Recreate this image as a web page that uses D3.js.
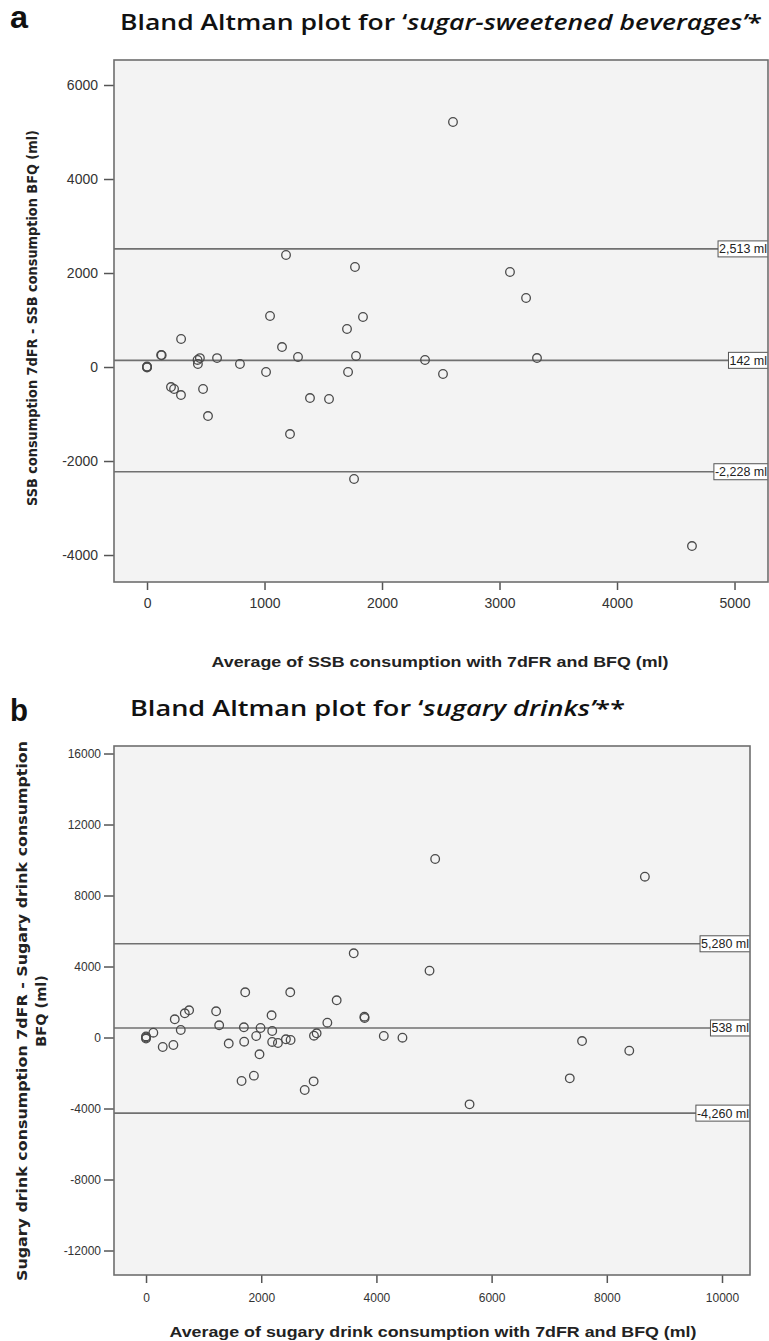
<!DOCTYPE html>
<html>
<head>
<meta charset="utf-8">
<script src="https://cdn.jsdelivr.net/npm/d3@7"></script>
<style>
  body { margin: 0; background: #fff; }
</style>
</head>
<body>
<svg id="chart"></svg>
<script>
// panel a: sugar-sweetened beverages
const ssbMean = [0, 0, 0, 120, 125, 290, 204, 230, 289, 430, 450, 433, 477, 519, 596, 791, 1013, 1047, 1149, 1183, 1217, 1285, 1387, 1549, 1702, 1711, 1762, 1770, 1779, 1838, 2366, 2519, 2604, 3089, 3226, 3319, 4638];
const ssbDiff = [0, 10, -10, 255, 250, 596, -426, -468, -596, 150, 190, 64, -468, -1043, 190, 64, -106, 1085, 425, 2383, -1426, 213, -660, -681, 809, -106, -2383, 2128, 234, 1064, 149, -149, 5213, 2021, 1468, 191, -3809];
const ssbLimits = [2513, 142, -2228];
const ssbLimitLabels = ["2,513 ml", "142 ml", "-2,228 ml"];
const ssbXTicks = [0, 1000, 2000, 3000, 4000, 5000];
const ssbYTicks = [-4000, -2000, 0, 2000, 4000, 6000];

// panel b: sugary drinks
const sdMean = [0, 0, 0, 127, 290, 475, 499, 603, 673, 748, 1217, 1270, 1436, 1659, 1699, 1704, 1722, 1873, 1913, 1970, 1988, 2180, 2191, 2190, 2290, 2429, 2504, 2510, 2755, 2910, 2916, 2962, 3148, 3310, 3606, 3791, 3795, 4128, 4452, 4922, 5020, 5617, 7357, 7570, 8390, 8661];
const sdDiff = [0, 60, -60, 270, -535, -423, 1025, 423, 1363, 1532, 1476, 687, -340, -2451, 575, -237, 2546, -2150, 85, -946, 535, 1251, 366, -250, -310, -101, 2546, -141, -2958, -2470, 101, 237, 834, 2096, 4743, 1172, 1100, 85, -11, 3763, 10056, -3765, -2300, -200, -744, 9059];
const sdLimits = [5280, 538, -4260];
const sdLimitLabels = ["5,280 ml", "538 ml", "-4,260 ml"];
const sdXTicks = [0, 2000, 4000, 6000, 8000, 10000];
const sdYTicks = [-12000, -8000, -4000, 0, 4000, 8000, 12000, 16000];

const width = 769, height = 1341;

const svg = d3.select("#chart")
    .attr("width", width)
    .attr("height", height)
    .attr("viewBox", [0, 0, width, height]);

function panel(id, o) {
  const x = d3.scaleLinear(o.xDomain, [o.left, o.right]);
  const y = d3.scaleLinear(o.yDomain, [o.bottom, o.top]);
  const g = svg.append("g");
  const plain = d => String(d); // SPSS style: hyphen minus, no grouping

  g.append("rect")
      .attr("x", o.left).attr("y", o.top)
      .attr("width", o.right - o.left).attr("height", o.bottom - o.top)
      .attr("fill", "#f3f3f3");

  // axes (domain hidden, frame drawn separately)
  g.append("g")
      .attr("transform", `translate(0,${o.bottom})`)
      .call(d3.axisBottom(x).tickValues(o.xTicks).tickSize(8).tickPadding(o.xPad).tickFormat(plain))
      .call(a => a.select(".domain").remove())
      .call(a => a.selectAll("line").attr("stroke", "#555").attr("stroke-width", 1.5))
      .call(a => a.selectAll("text").attr("fill", "#333")
          .attr("font-family", "Liberation Sans, Arial, sans-serif").attr("font-size", o.tickSize));

  g.append("g")
      .attr("transform", `translate(${o.left},0)`)
      .call(d3.axisLeft(y).tickValues(o.yTicks).tickSize(10).tickPadding(o.yPad).tickFormat(plain))
      .call(a => a.select(".domain").remove())
      .call(a => a.selectAll("line").attr("stroke", "#555").attr("stroke-width", 1.5))
      .call(a => a.selectAll("text").attr("fill", "#333")
          .attr("font-family", "Liberation Sans, Arial, sans-serif").attr("font-size", o.tickSize));

  g.append("clipPath").attr("id", id)
    .append("rect")
      .attr("x", o.left).attr("y", o.top)
      .attr("width", o.right - o.left).attr("height", o.bottom - o.top);

  const inner = g.append("g").attr("clip-path", `url(#${id})`);

  inner.selectAll("line.limit")
    .data(o.limits)
    .join("line")
      .attr("class", "limit")
      .attr("x1", o.left).attr("x2", o.right)
      .attr("y1", d => y(d)).attr("y2", d => y(d))
      .attr("stroke", "#707070")
      .attr("stroke-width", 1.6);

  inner.selectAll("circle")
    .data(d3.range(o.mean.length))
    .join("circle")
      .attr("cx", i => x(o.mean[i]))
      .attr("cy", i => y(o.diff[i]))
      .attr("r", 4.3)
      .attr("fill", "none")
      .attr("stroke", "#4a4a4a")
      .attr("stroke-width", 1.3);

  // labels of the limit lines, boxed, cut by the frame
  o.limits.forEach((v, k) => {
    const lg = inner.append("g");
    const box = lg.append("rect");
    const t = lg.append("text")
        .attr("x", o.right - 1)
        .attr("y", y(v) + 4.4)
        .attr("text-anchor", "end")
        .attr("font-family", "Liberation Sans, Arial, sans-serif")
        .attr("font-size", 12.5)
        .attr("fill", "#222")
        .text(o.limitLabels[k]);
    const b = t.node().getBBox();
    box.attr("x", b.x - 1).attr("y", y(v) - 8)
        .attr("width", b.width + 4).attr("height", 16)
        .attr("fill", "#fff").attr("stroke", "#555").attr("stroke-width", 1);
  });

  g.append("rect")
      .attr("x", o.left).attr("y", o.top)
      .attr("width", o.right - o.left).attr("height", o.bottom - o.top)
      .attr("fill", "none")
      .attr("stroke", "#6e6e6e")
      .attr("stroke-width", 1.6);

  // axis titles
  g.append("text")
      .attr("x", o.xTitleX).attr("y", o.xTitleY)
      .attr("text-anchor", "middle")
      .attr("font-family", "Liberation Sans, Arial, sans-serif")
      .attr("font-weight", "bold")
      .attr("font-size", 15.5)
      .attr("fill", "#222")
      .attr("textLength", o.xTitleLen)
      .attr("lengthAdjust", "spacingAndGlyphs")
      .text(o.xTitle);

  o.yTitle.forEach(line => {
    const t = g.append("text")
        .attr("transform", `translate(${line.x},${o.yTitleY}) rotate(-90)`)
        .attr("text-anchor", "middle")
        .attr("font-family", "DejaVu Sans, Verdana, sans-serif")
        .attr("font-weight", "bold")
        .attr("font-size", line.size)
        .attr("fill", "#222")
        .text(line.text);
    if (line.len) t.attr("textLength", line.len).attr("lengthAdjust", "spacingAndGlyphs");
  });

  // panel letter and heading
  svg.append("text")
      .attr("x", 10).attr("y", o.letterY)
      .attr("font-family", "Liberation Sans, Arial, sans-serif")
      .attr("font-weight", "bold")
      .attr("font-size", 31)
      .attr("fill", "#111")
      .attr("textLength", 18)
      .attr("lengthAdjust", "spacingAndGlyphs")
      .text(o.letter);

  const h = svg.append("text")
      .attr("x", o.headX).attr("y", o.headY)
      .attr("font-family", "Open Sans, Noto Sans, sans-serif")
      .attr("font-weight", 600)
      .attr("font-size", 21)
      .attr("fill", "#111")
      .attr("textLength", o.headLen)
      .attr("lengthAdjust", "spacingAndGlyphs");
  h.append("tspan").text("Bland Altman plot for \u2018");
  h.append("tspan").attr("font-style", "italic").text(o.headItalic + "\u2019");
  h.append("tspan").text(o.headTail);
}

panel("clipA", {
  left: 114, right: 768, top: 60, bottom: 582,
  xDomain: [-281, 5285], yDomain: [-4574, 6532],
  xTicks: ssbXTicks, yTicks: ssbYTicks,
  mean: ssbMean, diff: ssbDiff,
  limits: ssbLimits, limitLabels: ssbLimitLabels,
  tickSize: 14, xPad: 8, yPad: 6,
  xTitle: "Average of SSB consumption with 7dFR and BFQ (ml)",
  xTitleX: 440, xTitleY: 667, xTitleLen: 457,
  yTitle: [{text: "SSB consumption 7dFR - SSB consumption BFQ (ml)", x: 37, size: 14.5, len: 376}],
  yTitleY: 318,
  letter: "a", letterY: 28,
  headX: 120, headY: 30, headLen: 642,
  headItalic: "sugar-sweetened beverages", headTail: "*"
});

panel("clipB", {
  left: 114, right: 750, top: 746, bottom: 1275,
  xDomain: [-556, 10486], yDomain: [-13380, 16423],
  xTicks: sdXTicks, yTicks: sdYTicks,
  mean: sdMean, diff: sdDiff,
  limits: sdLimits, limitLabels: sdLimitLabels,
  tickSize: 12, xPad: 10, yPad: 3,
  xTitle: "Average of sugary drink consumption with 7dFR and BFQ (ml)",
  xTitleX: 433, xTitleY: 1337, xTitleLen: 527,
  yTitle: [
    {text: "Sugary drink consumption 7dFR - Sugary drink consumption", x: 27, size: 14.5, len: 540},
    {text: "BFQ (ml)", x: 46, size: 14.5}
  ],
  yTitleY: 1011,
  letter: "b", letterY: 721,
  headX: 130, headY: 716, headLen: 495,
  headItalic: "sugary drinks", headTail: "**"
});
</script>
</body>
</html>
